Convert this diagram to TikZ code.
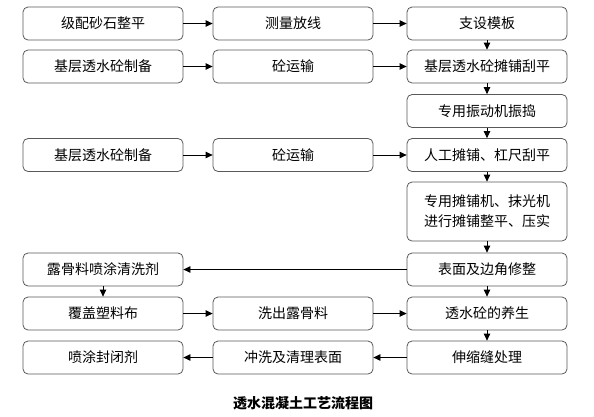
\documentclass[tikz,border=0pt]{standalone}
\usepackage{fontspec}
\newfontfamily\cjk{Noto Sans CJK SC}
\usetikzlibrary{arrows.meta}

\begin{document}
\begin{tikzpicture}[x=1bp, y=-1bp, thick,
  box/.style={draw=black!65, line width=0.8bp, rounded corners=5bp,
    minimum width=160bp, minimum height=33bp, inner sep=0pt,
    align=center, font=\cjk\fontsize{14bp}{20bp}\selectfont},
  flow/.style={-{Triangle[length=7bp,width=6.5bp]}, line width=0.8bp}]
  \useasboundingbox (0,0) rectangle (594,416);
  % columns and rows
  \coordinate (c1) at (103,0);
  \coordinate (c2) at (293,0);
  \coordinate (c3) at (487,0);
  \node[box] (level)   at (103,23.5)  {级配砂石整平};
  \node[box] (survey)  at (293,23.5)  {测量放线};
  \node[box] (form)    at (487,23.5)  {支设模板};
  \node[box] (mixA)    at (103,66.5)  {基层透水砼制备};
  \node[box] (haulA)   at (293,66.5)  {砼运输};
  \node[box] (spreadA) at (487,66.5)  {基层透水砼摊铺刮平};
  \node[box] (vibrate) at (487,111)   {专用振动机振捣};
  \node[box] (mixB)    at (103,155)   {基层透水砼制备};
  \node[box] (haulB)   at (293,155)   {砼运输};
  \node[box] (spreadB) at (487,155)   {人工摊铺、杠尺刮平};
  \node[box, minimum height=59bp] (machine) at (487,211.5)
    {专用摊铺机、抹光机\\进行摊铺整平、压实};
  \node[box] (trim)    at (487,269.5) {表面及边角修整};
  \node[box] (spray)   at (103,269.5) {露骨料喷涂清洗剂};
  \node[box] (cover)   at (103,313.5) {覆盖塑料布};
  \node[box] (expose)  at (293,313.5) {洗出露骨料};
  \node[box] (cure)    at (487,313.5) {透水砼的养生};
  \node[box] (joint)   at (487,357.5) {伸缩缝处理};
  \node[box] (clean)   at (293,357.5) {冲洗及清理表面};
  \node[box] (seal)    at (103,357.5) {喷涂封闭剂};
  \node[font=\cjk\bfseries\fontsize{14bp}{18bp}\selectfont] (title)
    at (303,403) {透水混凝土工艺流程图};

  \draw[flow] (level) -- (survey);
  \draw[flow] (survey) -- (form);
  \draw[flow] (mixA) -- (haulA);
  \draw[flow] (haulA) -- (spreadA);
  \draw[flow] (form) -- (spreadA);
  \draw[flow] (spreadA) -- (vibrate);
  \draw[flow] (vibrate) -- (spreadB);
  \draw[flow] (mixB) -- (haulB);
  \draw[flow] (haulB) -- (spreadB);
  \draw[flow] (spreadB) -- (machine);
  \draw[flow] (machine) -- (trim);
  \draw[flow] (trim) -- (spray);
  \draw[flow] (spray) -- (cover);
  \draw[flow] (cover) -- (expose);
  \draw[flow] (expose) -- (cure);
  \draw[flow] (trim) -- (cure);
  \draw[flow] (cure) -- (joint);
  \draw[flow] (joint) -- (clean);
  \draw[flow] (clean) -- (seal);
\end{tikzpicture}
\end{document}
